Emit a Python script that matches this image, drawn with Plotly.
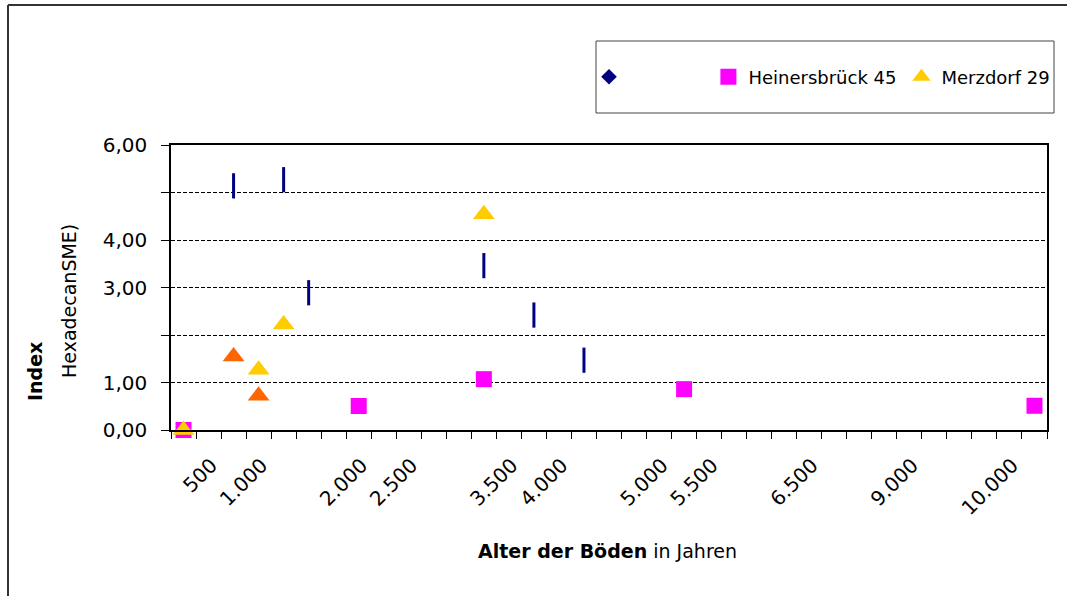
import plotly.graph_objects as go

# Kategorienachse: 35 Altersklassen, beschriftet wird nur ein Teil davon
n_kategorien = 35
tick_pos = [1, 3, 7, 9, 13, 15, 19, 21, 25, 29, 33]
tick_text = ["500", "1.000", "2.000", "2.500", "3.500", "4.000",
             "5.000", "5.500", "6.500", "9.000", "10.000"]

# Y-Achse
y_tickvals = [0, 1, 2, 3, 4, 5, 6]
y_ticktext = ["0,00", "1,00", "", "3,00", "4,00", "", "6,00"]

# Reihe ohne Namen (dunkelblau)
blau_x = [2, 4, 5, 12, 14, 16]
blau_y = [5.14, 5.27, 2.89, 3.46, 2.42, 1.47]

# Heinersbrück 45
hb_x = [0, 7, 12, 20, 34]
hb_y = [0.0, 0.505, 1.07, 0.86, 0.51]

# Merzdorf 29
mz_x = [0, 3, 4, 12]
mz_y = [0.0, 1.27, 2.22, 4.54]

# Merzdorf, hervorgehobene Punkte (orange)
mz_orange_x = [2, 3]
mz_orange_y = [1.55, 0.72]

FONT = "DejaVu Sans"
W, H = 1067, 596
L, R, T, B = 171, 20, 145, 166


def px(xp):
    return (xp - L) / (W - L - R)


def py(yp):
    return (H - B - yp) / (H - T - B)


fig = go.Figure()

fig.add_trace(go.Scatter(
    x=blau_x, y=blau_y, mode="markers", showlegend=False, cliponaxis=False,
    marker=dict(symbol="line-ns", size=18, line=dict(width=3, color="#000080")),
))
fig.add_trace(go.Scatter(
    x=[None], y=[None], mode="markers", name="\u00a0" * 13,
    marker=dict(symbol="diamond", size=12, color="#000080"),
))
fig.add_trace(go.Scatter(
    x=hb_x, y=hb_y, mode="markers", name="Heinersbrück 45", cliponaxis=False,
    marker=dict(symbol="square", size=16, color="#FF00FF"),
))
fig.add_trace(go.Scatter(
    x=mz_x, y=mz_y, mode="markers", name="Merzdorf 29", cliponaxis=False,
    marker=dict(symbol="triangle-up", size=19, color="#FFCC00"),
))
fig.add_trace(go.Scatter(
    x=mz_orange_x, y=mz_orange_y, mode="markers", showlegend=False, cliponaxis=False,
    marker=dict(symbol="triangle-up", size=19, color="#FF6600"),
))

fig.update_layout(
    width=W, height=H,
    margin=dict(l=L, r=R, t=T, b=B, autoexpand=False),
    paper_bgcolor="white", plot_bgcolor="white",
    font=dict(family=FONT, size=19, color="black"),
    legend=dict(
        orientation="h", x=px(589), y=py(77), xanchor="left", yanchor="middle",
        font=dict(family=FONT, size=18, color="black"),
        bgcolor="rgba(0,0,0,0)", borderwidth=0, itemwidth=30,
    ),
    xaxis=dict(
        range=[-0.5, n_kategorien - 0.5], tickmode="array",
        tickvals=tick_pos, ticktext=tick_text, tickangle=-45,
        ticks="", showgrid=False, zeroline=False,
        showline=True, linecolor="black", linewidth=1.5, mirror=True,
        tickfont=dict(family=FONT, size=20),
        ticklabelstandoff=14, ticklabelshift=3,
        minor=dict(tickmode="array",
                   tickvals=[i - 0.5 for i in range(n_kategorien + 1)],
                   ticks="outside", ticklen=7, tickwidth=1, tickcolor="black",
                   showgrid=False),
    ),
    yaxis=dict(
        range=[0, 6], tickmode="array", tickvals=y_tickvals, ticktext=y_ticktext,
        ticks="outside", ticklen=8, tickwidth=1, tickcolor="black",
        ticklabelstandoff=10,
        showgrid=True, gridcolor="black", gridwidth=1, griddash="4px,2px",
        zeroline=False, showline=True, linecolor="black", linewidth=1.5, mirror=True,
        tickfont=dict(family=FONT, size=20),
    ),
    shapes=[
        # Rahmen des Diagramms (links und oben)
        dict(type="line", xref="paper", yref="paper",
             x0=px(8), y0=py(5), x1=px(8), y1=py(700),
             line=dict(color="#333333", width=2), layer="below"),
        dict(type="line", xref="paper", yref="paper",
             x0=px(8), y0=py(5), x1=px(1200), y1=py(5),
             line=dict(color="#333333", width=2), layer="below"),
        # Legendenrahmen
        dict(type="rect", xref="paper", yref="paper",
             x0=px(596), y0=py(113), x1=px(1054), y1=py(41),
             line=dict(color="#444444", width=1), fillcolor="white", layer="below"),
    ],
    annotations=[
        dict(text="<b>Alter der Böden</b> in Jahren", xref="paper", yref="paper",
             x=px(607), y=py(551), xanchor="center", yanchor="middle",
             showarrow=False, font=dict(family=FONT, size=19)),
        dict(text="<b>Index</b>", xref="paper", yref="paper",
             x=px(35), y=py(372), xanchor="center", yanchor="middle", textangle=-90,
             showarrow=False, font=dict(family=FONT, size=19)),
        dict(text="HexadecanSME)", xref="paper", yref="paper",
             x=px(69), y=py(301), xanchor="center", yanchor="middle", textangle=-90,
             showarrow=False, font=dict(family=FONT, size=19)),
    ],
)

fig.write_html("out.html")
